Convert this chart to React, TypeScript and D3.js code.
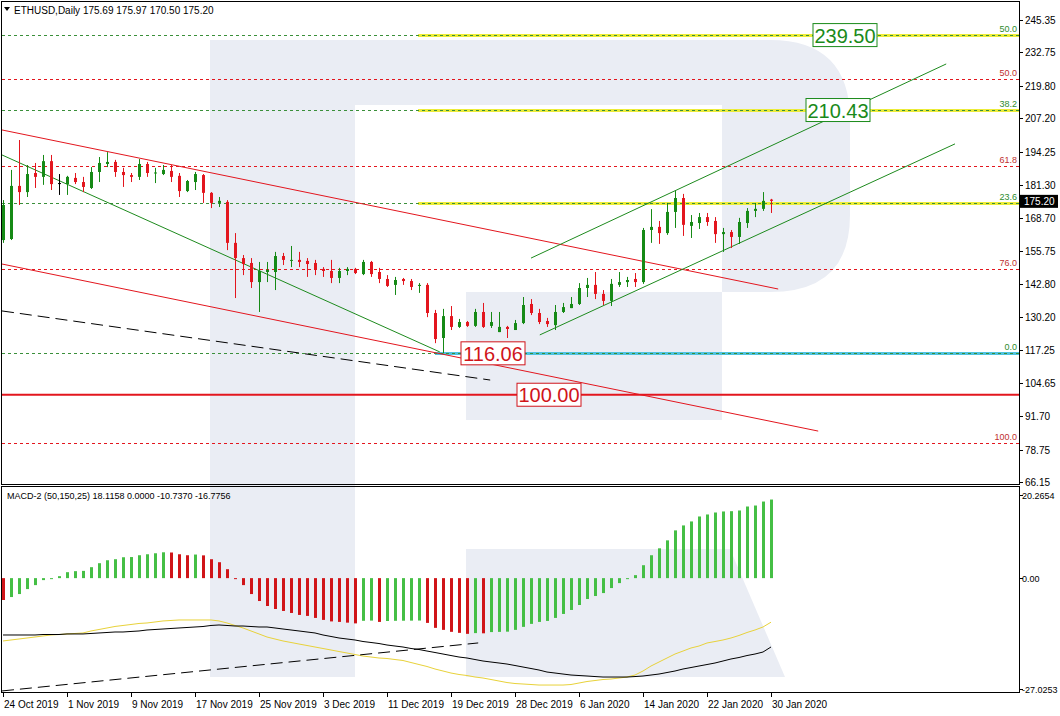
import React from "react";
import * as d3 from "d3";

const W = 1060;
const H = 716;

// ETHUSD daily candles (24 Oct 2019 .. 30 Jan 2020)
const open = [160.0,160.4,181.0,178.6,186.0,184.5,190.6,182.1,181.7,184.1,182.5,180.2,186.4,189.5,190.3,186.4,185.2,184.5,189.5,186.0,185.6,186.8,184.9,179.0,182.5,185.2,178.3,174.4,174.8,158.9,153.0,151.1,143.7,147.6,147.6,153.8,152.1,152.3,151.9,151.1,148.8,148.0,145.3,148.0,148.8,146.8,151.5,147.6,144.9,142.6,144.9,144.1,142.2,142.6,131.7,122.0,130.5,126.3,128.2,126.7,132.1,126.7,124.3,126.3,125.1,127.8,135.2,131.7,128.6,127.0,132.1,133.6,135.2,141.4,142.6,139.1,136.4,142.6,143.7,144.9,143.7,163.9,165.1,162.7,170.9,176.3,165.5,166.6,168.9,167.4,162.3,163.1,161.2,166.6,171.3,172.1,175.69];
const high = [175.5,187.2,198.8,189.1,189.9,193.0,193.0,185.6,184.9,186.0,184.5,188.3,192.2,194.1,191.1,188.0,186.0,191.4,190.3,188.0,189.1,189.1,186.0,183.3,186.4,185.6,178.6,176.7,175.5,162.7,154.2,153.0,151.5,151.5,155.4,155.0,157.7,155.4,153.0,152.3,149.5,152.3,149.2,149.5,149.2,152.3,151.9,149.2,146.4,145.7,145.3,144.9,143.3,143.3,132.9,133.3,134.4,129.4,128.6,133.3,135.6,132.1,132.1,126.7,129.0,137.9,137.1,133.3,129.8,134.8,135.6,137.9,143.3,145.3,147.6,140.6,144.9,147.6,145.7,147.2,164.7,172.0,167.4,174.4,179.0,177.9,169.7,170.5,170.5,168.9,164.7,163.9,168.6,172.4,174.4,178.6,175.97];
const low = [158.9,160.0,173.6,176.7,180.2,181.4,179.4,177.5,177.5,181.7,178.6,179.8,182.5,188.3,184.5,180.6,182.5,183.3,184.5,182.1,185.2,182.5,176.7,178.6,179.4,174.4,172.4,172.8,156.1,137.5,146.4,141.4,132.1,143.7,140.6,150.3,149.5,149.5,145.7,146.4,145.7,143.3,143.3,146.4,146.8,146.4,145.7,143.3,141.8,138.7,142.6,140.6,139.5,130.1,120.0,116.06,125.1,125.9,126.3,126.3,125.9,125.9,124.3,122.0,125.1,127.4,130.9,127.4,126.3,125.1,131.7,133.6,134.8,137.9,137.1,134.8,134.4,141.8,141.8,141.8,143.0,158.9,158.5,162.0,164.7,161.6,160.8,164.3,165.5,158.9,155.4,156.9,158.5,164.7,168.9,171.3,170.50];
const close = [173.6,181.0,178.6,185.6,184.5,190.6,181.7,182.1,184.5,182.5,180.6,186.4,189.9,190.3,186.4,185.2,184.5,189.5,186.0,186.2,187.2,184.5,179.0,182.9,185.6,178.3,174.4,175.2,158.9,153.0,150.7,143.7,148.0,148.4,153.8,152.3,152.3,151.5,150.7,148.4,148.0,145.3,148.0,148.8,147.2,151.5,146.8,144.9,142.2,144.5,144.1,141.8,142.6,131.7,121.6,130.5,126.3,128.2,126.7,132.1,126.3,128.2,126.3,125.5,127.8,134.8,131.7,128.2,127.4,132.1,134.0,135.2,141.4,142.6,139.1,136.4,143.0,143.7,144.5,143.7,163.9,165.1,162.7,170.9,176.3,165.9,167.0,168.9,167.0,162.3,163.1,161.2,167.0,171.3,172.1,175.2,175.20];

// MACD-2 (50,150,25)
const histogram = [-5.33,-4.61,-3.88,-2.67,-1.70,-0.48,-0.10,0.48,1.45,1.70,1.77,2.67,3.64,4.36,4.61,5.09,5.14,5.58,5.82,6.06,6.30,6.25,5.82,5.58,5.75,5.55,4.61,3.88,2.18,-0.07,-1.70,-3.88,-5.58,-6.79,-7.52,-8.00,-8.49,-8.97,-9.21,-9.70,-10.18,-10.55,-10.67,-10.85,-11.03,-10.40,-10.35,-10.67,-10.45,-10.40,-10.38,-10.36,-10.34,-10.91,-12.12,-12.61,-13.09,-13.34,-13.58,-13.40,-13.45,-13.15,-13.10,-13.05,-12.61,-11.88,-11.15,-10.67,-10.43,-9.70,-8.73,-7.76,-6.55,-5.09,-4.36,-3.64,-2.42,-1.21,-0.12,0.73,3.15,5.58,7.27,9.21,11.64,12.85,13.82,15.03,15.52,16.00,16.25,16.32,16.49,17.46,17.70,18.67,19.16];
const signalYellow = [-15.32,-15.08,-14.84,-14.59,-14.35,-14.10,-13.86,-13.74,-13.61,-13.49,-13.37,-12.88,-12.52,-12.15,-11.78,-11.54,-11.30,-11.05,-10.93,-10.69,-10.44,-10.32,-10.20,-10.20,-10.20,-10.20,-10.20,-10.44,-10.93,-11.54,-12.15,-12.88,-13.61,-14.35,-14.84,-15.32,-15.69,-16.06,-16.42,-16.79,-17.15,-17.52,-17.89,-18.25,-18.62,-18.99,-19.23,-19.47,-19.59,-19.84,-20.08,-20.57,-21.06,-21.54,-22.15,-22.64,-23.13,-23.49,-23.74,-24.10,-24.35,-24.71,-25.08,-25.45,-25.69,-25.81,-25.93,-26.06,-26.06,-26.06,-26.06,-25.93,-25.57,-25.20,-24.96,-24.71,-24.59,-24.35,-24.10,-23.62,-22.64,-21.42,-20.45,-19.47,-18.50,-17.77,-17.03,-16.55,-15.81,-15.45,-15.08,-14.59,-13.98,-13.25,-12.64,-11.91,-10.74];
const signalBlack = [-13.86,-13.86,-13.86,-13.86,-13.86,-13.74,-13.74,-13.74,-13.61,-13.61,-13.61,-13.49,-13.37,-13.25,-13.13,-13.13,-13.00,-12.88,-12.64,-12.52,-12.40,-12.27,-12.15,-12.03,-11.91,-11.79,-11.54,-11.42,-11.54,-11.67,-11.67,-11.79,-11.91,-11.91,-12.15,-12.40,-12.64,-12.88,-13.13,-13.37,-13.86,-14.22,-14.59,-14.84,-15.08,-15.45,-15.69,-15.94,-16.30,-16.55,-16.79,-17.15,-17.40,-17.77,-18.13,-18.50,-18.87,-19.23,-19.47,-19.84,-20.20,-20.45,-20.69,-20.94,-21.30,-21.67,-22.03,-22.40,-22.89,-23.13,-23.38,-23.62,-23.74,-23.86,-23.99,-24.11,-24.11,-24.11,-24.11,-23.99,-23.86,-23.62,-23.38,-23.01,-22.64,-22.15,-21.79,-21.42,-21.06,-20.69,-20.20,-19.71,-19.35,-18.87,-18.50,-18.01,-16.78];

const dateTicks = ["24 Oct 2019","1 Nov 2019","9 Nov 2019","17 Nov 2019","25 Nov 2019","3 Dec 2019","11 Dec 2019","19 Dec 2019","28 Dec 2019","6 Jan 2020","14 Jan 2020","22 Jan 2020","30 Jan 2020"];
const priceTicks = [245.35,232.75,219.80,207.20,194.25,181.30,168.70,155.75,142.80,130.20,117.25,104.65,91.70,78.75,66.15];
const macdTicks = [20.2654, 0, -27.0253];

// Fibonacci levels
const fibGreenLevels = ["50.0","38.2","23.6","0.0"];
const fibGreenPrices = [239.50,210.43,174.32,116.06];
const fibRedLevels = ["50.0","61.8","76.0","100.0"];
const fibRedPrices = [222.5,188.7,148.8,81.3];
const keyLevels = [239.50,210.43,116.06,100.00];

// trend lines [bar, price, bar, price]
const redChannel = [[-0.125,202.7,96.9,141.0],[-0.125,150.7,101.9,85.9]];
const greenLines = [[-0.125,193.0,54.6,116.6],[66.0,153.0,117.9,228.3],[67.1,123.2,119.0,197.3]];
const blackDashed = [-0.125,132.5,60.9,105.7];
const macdDashed = [-0.125,-27.5,59.4,-15.8];

const GREEN = "#168a16";
const RED = "#e3161e";
const HG = "#45bf45";
const HR = "#d01418";

export default function App() {
  const L = 2, R = 1019, mTop = 2, mBot = 485, dTop = 487, dBot = 693;
  const x = d3.scaleLinear().domain([0, 96]).range([3, 771]);
  const yP = d3.scaleLinear().domain([66.15, 245.35]).range([482, 20]);
  const yM = d3.scaleLinear().domain([-27.0253, 20.2654]).range([689, 495]);
  const font = "Liberation Sans, Arial, sans-serif";

  const lineYellow = d3.line<number>().x((_, i) => x(i)).y((d) => yM(d))(signalYellow) || "";
  const lineBlack = d3.line<number>().x((_, i) => x(i)).y((d) => yM(d))(signalBlack) || "";

  const wm = "#eaedf4";

  return (
    <svg width={W} height={H} style={{ display: "block", position: "absolute", left: 0, top: 0, background: "#fff" }} fontFamily={font}>
      <defs>
        <clipPath id="cm"><rect x={L} y={mTop} width={R - L} height={mBot - mTop} /></clipPath>
        <clipPath id="cd"><rect x={L} y={dTop} width={R - L} height={dBot - dTop} /></clipPath>
      </defs>
      <rect x={0} y={0} width={W} height={H} fill="#fff" />
      {/* watermark */}
      <g fill={wm}>
        <rect x={210} y={40} width={145} height={637} />
        <path d="M355,40 L770,40 Q850,40 850,120 L850,215 Q850,292 770,292 L466,292 L466,420 L722,420 L722,292 L355,292 Z" />
        <path d="M466,549 L730,549 L785,677 L466,677 Z" />
        <rect x={355} y={105} width={367} height={187} fill="#fff" />
      </g>
      {/* main panel */}
      <g clipPath="url(#cm)">
        {fibRedPrices.map((p, i) => (
          <line key={"fr" + i} x1={L} x2={R} y1={Math.round(yP(p)) + 0.5} y2={Math.round(yP(p)) + 0.5} stroke={RED} strokeDasharray="3,3" />
        ))}
        {fibGreenPrices.map((p, i) => (
          <g key={"fg" + i}>
            <line x1={i === 3 ? 435 : 418} x2={R} y1={Math.round(yP(p)) + 0.5} y2={Math.round(yP(p)) + 0.5} stroke={i === 3 ? "#4fc3e0" : "#ecec3a"} strokeWidth={3} />
            <line x1={L} x2={R} y1={Math.round(yP(p)) + 0.5} y2={Math.round(yP(p)) + 0.5} stroke="#3a8f3a" strokeDasharray="3,3" />
          </g>
        ))}
        <line x1={L} x2={R} y1={yP(keyLevels[3])} y2={yP(keyLevels[3])} stroke={RED} strokeWidth={2} />
        {redChannel.map((t, i) => (
          <line key={"rc" + i} x1={x(t[0])} y1={yP(t[1])} x2={x(t[2])} y2={yP(t[3])} stroke={RED} strokeWidth={1} />
        ))}
        {greenLines.map((t, i) => (
          <line key={"gl" + i} x1={x(t[0])} y1={yP(t[1])} x2={x(t[2])} y2={yP(t[3])} stroke="#1d8a1d" strokeWidth={1} />
        ))}
        <line x1={x(blackDashed[0])} y1={yP(blackDashed[1])} x2={x(blackDashed[2])} y2={yP(blackDashed[3])} stroke="#000" strokeDasharray="12,6" />
        {open.map((o, i) => {
          const c = close[i];
          const col = c > o ? GREEN : c < o ? RED : "#000";
          const cx = Math.round(x(i));
          const top = yP(Math.max(o, c));
          const bot = yP(Math.min(o, c));
          return (
            <g key={"c" + i}>
              <line x1={cx + 0.5} x2={cx + 0.5} y1={yP(high[i])} y2={yP(low[i])} stroke={col} />
              <rect x={cx - 1} y={top} width={3} height={Math.max(1, bot - top)} fill={col} />
            </g>
          );
        })}
        {/* level labels */}
        {[
          { p: keyLevels[0], t: "239.50", c: "#1a8a1a", bx: 813 },
          { p: keyLevels[1], t: "210.43", c: "#1a8a1a", bx: 806 },
          { p: keyLevels[2], t: "116.06", c: "#d0141a", bx: 461 },
          { p: keyLevels[3], t: "100.00", c: "#d0141a", bx: 517 },
        ].map((d, i) => (
          <g key={"kl" + i}>
            <rect x={d.bx} y={yP(d.p) - 11.5} width={64} height={23} fill="#fff" stroke={d.c} />
            <text x={d.bx + 32} y={yP(d.p) + 7.5} textAnchor="middle" fontSize={20} fill={d.c}>{d.t}</text>
          </g>
        ))}
        {fibGreenLevels.map((t, i) => (
          <text key={"fgt" + i} x={1017} y={yP(fibGreenPrices[i]) - 3} textAnchor="end" fontSize={9} fill="#2e8b2e">{t}</text>
        ))}
        {fibRedLevels.map((t, i) => (
          <text key={"frt" + i} x={1017} y={yP(fibRedPrices[i]) - 3} textAnchor="end" fontSize={9} fill="#c03030">{t}</text>
        ))}
      </g>
      {/* MACD panel */}
      <g clipPath="url(#cd)">
        {histogram.map((v, i) => {
          const prev = i === 0 ? Infinity : histogram[i - 1];
          const col = v >= prev ? HG : HR;
          const cx = Math.round(x(i));
          const y0 = yM(0), y1 = yM(v);
          return <rect key={"h" + i} x={cx - 1} y={Math.min(y0, y1)} width={3} height={Math.max(1, Math.abs(y1 - y0))} fill={col} />;
        })}
        <path d={lineYellow} fill="none" stroke="#e8d23a" strokeWidth={1} />
        <path d={lineBlack} fill="none" stroke="#000" strokeWidth={1} />
        <line x1={x(macdDashed[0])} y1={yM(macdDashed[1])} x2={x(macdDashed[2])} y2={yM(macdDashed[3])} stroke="#000" strokeDasharray="12,6" />
      </g>
      {/* frames */}
      <rect x={L - 0.5} y={mTop - 0.5} width={R - L + 1} height={mBot - mTop} fill="none" stroke="#000" />
      <rect x={L - 0.5} y={dTop - 0.5} width={R - L + 1} height={dBot - dTop} fill="none" stroke="#000" />
      {/* headers */}
      <path d="M4,7 L10,7 L7,11 Z" fill="#000" />
      <text x={14} y={14} fontSize={10} fill="#000">ETHUSD,Daily  175.69 175.97 170.50 175.20</text>
      <text x={7} y={499} fontSize={9} fill="#000">MACD-2 (50,150,25) 18.1158 0.0000 -10.7370 -16.7756</text>
      {/* price axis */}
      {priceTicks.map((p, i) => (
        <g key={"pt" + i}>
          <line x1={R} x2={R + 4} y1={Math.round(yP(p)) + 0.5} y2={Math.round(yP(p)) + 0.5} stroke="#000" />
          <text x={1025} y={yP(p) + 4} fontSize={10} fill="#000">{p.toFixed(2)}</text>
        </g>
      ))}
      <rect x={1020} y={yP(close[96]) - 6} width={38} height={13} fill="#000" />
      <text x={1024} y={yP(close[96]) + 4} fontSize={10} fill="#fff">{close[96].toFixed(2)}</text>
      {macdTicks.map((v, i) => (
        <g key={"mt" + i}>
          <line x1={R} x2={R + 4} y1={Math.round(yM(v)) + 0.5} y2={Math.round(yM(v)) + 0.5} stroke="#000" />
          <text x={1022} y={yM(v) + 3.5} fontSize={9} fill="#000">{v === 0 ? "0.00" : v.toFixed(4)}</text>
        </g>
      ))}
      {/* date axis */}
      {dateTicks.map((t, i) => (
        <g key={"dt" + i}>
          <line x1={Math.round(x(i * 8)) + 0.5} x2={Math.round(x(i * 8)) + 0.5} y1={dBot - 1} y2={dBot + 4} stroke="#000" />
          <text x={x(i * 8) + 1} y={708} fontSize={10} fill="#000">{t}</text>
        </g>
      ))}
    </svg>
  );
}
